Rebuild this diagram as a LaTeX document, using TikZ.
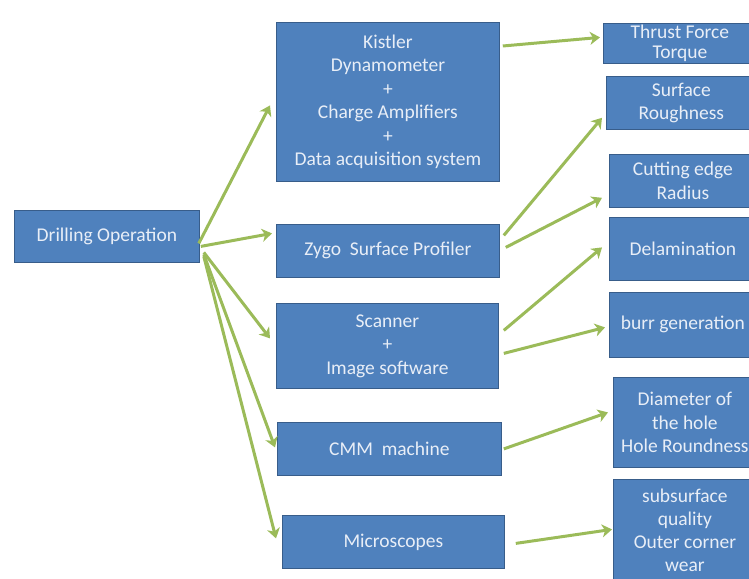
\documentclass[tikz,border=0pt]{standalone}
\usepackage{fontspec}
\setmainfont{Carlito}
\usepackage{tikz}
\usetikzlibrary{arrows.meta}
\definecolor{boxblue}{RGB}{79,129,189}
\definecolor{boxedge}{RGB}{56,93,138}
\definecolor{arrowgreen}{RGB}{155,187,89}
\definecolor{boxtext}{RGB}{232,238,247}

\begin{document}
\begin{tikzpicture}[
  x=1pt, y=-1pt,
  box/.style={rectangle, fill=boxblue, draw=boxedge, line width=0.8pt, text=boxtext, align=center, anchor=north west, inner sep=2pt, font=\fontsize{19.5}{23.5}\selectfont},
  arrow/.style={-{Stealth[length=10pt,width=13pt,inset=3pt]}, draw=arrowgreen, line width=3pt}
]
\useasboundingbox (0,0) rectangle (749,578);
\clip (0,0) rectangle (749,578);

\node[box, minimum width=185pt, minimum height=52pt] (drill) at (14,210) {Drilling Operation};

\node[box, minimum width=223pt, minimum height=159pt] (kistler) at (276,22) {Kistler\\Dynamometer\\+\\Charge Amplifiers\\+\\Data acquisition system};
\node[box, minimum width=223pt, minimum height=53pt] (zygo) at (276,224) {Zygo\ \ Surface Profiler};
\node[box, minimum width=222pt, minimum height=85pt] (scanner) at (276,303) {Scanner\\+\\Image software};
\node[box, minimum width=224pt, minimum height=53pt] (cmm) at (277,422) {CMM\ \ machine};
\node[box, minimum width=222pt, minimum height=53pt] (micro) at (282,515) {Microscopes};

\node[box, minimum width=153pt, minimum height=40pt, inner ysep=0pt, font=\fontsize{19.5}{19.5}\selectfont] (thrust) at (603,23) {Thrust Force\\Torque};
\node[box, minimum width=150pt, minimum height=53pt] (rough) at (606,76) {Surface\\Roughness};
\node[box, minimum width=147pt, minimum height=53pt] (cut) at (609,154) {Cutting edge\\Radius};
\node[box, minimum width=147pt, minimum height=63pt] (delam) at (609,217) {Delamination};
\node[box, minimum width=147pt, minimum height=65pt] (burr) at (609,292) {burr generation};
\node[box, minimum width=143pt, minimum height=90pt] (diam) at (613,377) {Diameter of\\the hole\\Hole Roundness};
\node[box, minimum width=143pt, minimum height=102pt, inner ysep=0pt, font=\fontsize{19.5}{23}\selectfont] (subs) at (613,479) {subsurface\\quality\\Outer corner\\wear};

% from the operation to the instruments
\draw[arrow] ([xshift=-1pt,yshift=-7pt]drill.east) -- ([xshift=-6pt,yshift=-3.5pt]kistler.west);
\draw[arrow] ([xshift=1pt,yshift=-10pt]drill.east) -- ([xshift=-4pt,yshift=17.5pt]zygo.west);
\draw[arrow] ([xshift=4pt,yshift=-16pt]drill.east) -- ([xshift=-6pt,yshift=7.5pt]scanner.west);
\draw[arrow] ([xshift=4pt,yshift=-18pt]drill.east) -- ([xshift=-2pt,yshift=1.5pt]cmm.west);
\draw[arrow] ([xshift=4pt,yshift=-20pt]drill.east) -- ([xshift=-6pt,yshift=3.5pt]micro.west);

% from the instruments to the measured quantities
\draw[arrow] ([xshift=3pt,yshift=-24pt]kistler.north east) -- ([xshift=-3pt,yshift=6pt]thrust.west);
\draw[arrow] ([xshift=4pt,yshift=15.5pt]zygo.east) -- ([xshift=-4pt,yshift=12pt]rough.south west);
\draw[arrow] ([xshift=6pt,yshift=3.5pt]zygo.east) -- ([xshift=-7pt,yshift=10pt]cut.south west);
\draw[arrow] ([xshift=5pt,yshift=15.5pt]scanner.east) -- ([xshift=-7pt,yshift=1.5pt]delam.west);
\draw[arrow] ([xshift=5pt,yshift=-7.5pt]scanner.east) -- ([xshift=-4pt,yshift=-2.5pt]burr.west);
\draw[arrow] ([xshift=2pt]cmm.east) -- ([xshift=-5pt,yshift=10pt]diam.west);
\draw[arrow] ([xshift=11pt,yshift=-1.5pt]micro.east) -- ([xshift=-1pt,yshift=1pt]subs.west);
\end{tikzpicture}
\end{document}
